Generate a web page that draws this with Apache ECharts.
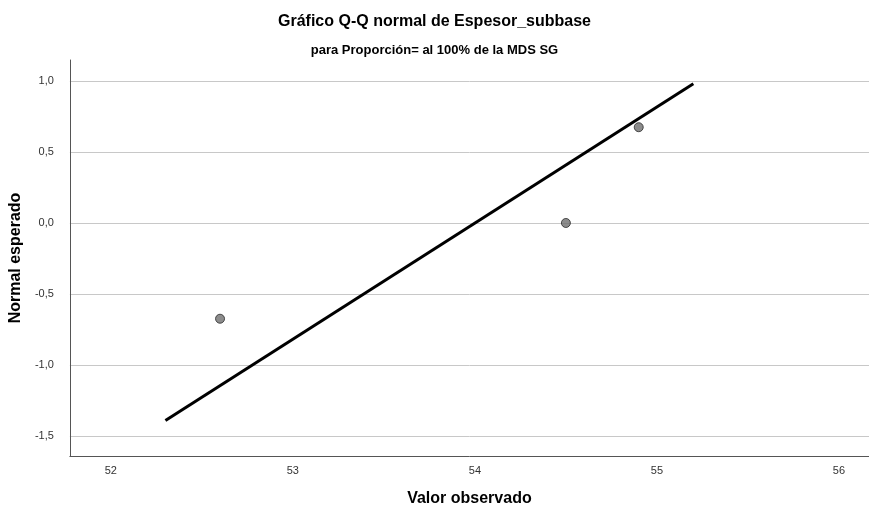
<!DOCTYPE html>
<html>
<head>
<meta charset="utf-8">
<script src="https://cdn.jsdelivr.net/npm/echarts@6/dist/echarts.min.js"></script>
<style>
    html, body { margin: 0; padding: 0; background: #fff; }
    #main { width: 869px; height: 512px; }
</style>
</head>
<body>
<div id="main"></div>
<script>
    // valores observados y normal esperado (Q-Q)
    var observado = [52.6, 54.5, 54.9];
    var esperado = [-0.674, 0.0, 0.674];
    // recta de referencia (extremos)
    var rectaX = [52.3, 55.2];
    var rectaY = [-1.39, 0.98];
    var xTicks = [52, 53, 54, 55, 56];
    var yTicks = [-1.5, -1.0, -0.5, 0.0, 0.5, 1.0];

    var puntos = observado.map(function (v, i) { return [v, esperado[i]]; });
    var recta = rectaX.map(function (v, i) { return [v, rectaY[i]]; });

    var myChart = echarts.init(document.getElementById('main'));
    myChart.setOption({
        animation: false,
        textStyle: { fontFamily: 'Liberation Sans, Arial, sans-serif' },
        title: {
            text: 'Gráfico Q-Q normal de Espesor_subbase',
            subtext: 'para Proporción= al 100% de la MDS SG',
            left: 'center',
            top: 9,
            itemGap: 14,
            textStyle: { fontSize: 16, fontWeight: 'bold', color: '#000' },
            subtextStyle: { fontSize: 13, fontWeight: 'bold', color: '#000' }
        },
        grid: {
            left: 67,
            right: 0,
            top: 60,
            bottom: 54
        },
        xAxis: {
            type: 'value',
            min: 51.775,
            max: 56.165,
            name: 'Valor observado',
            nameLocation: 'middle',
            nameGap: 35,
            nameTextStyle: { fontSize: 16, fontWeight: 'bold', color: '#000' },
            axisLine: { show: true, onZero: false, lineStyle: { color: '#555', width: 1 } },
            axisTick: { show: false, customValues: xTicks },
            axisLabel: {
                customValues: xTicks,
                fontSize: 11,
                color: '#333',
                margin: 9,
                formatter: function (v) { return String(v); }
            },
            splitLine: { show: false }
        },
        yAxis: {
            type: 'value',
            min: -1.64,
            max: 1.147,
            name: 'Normal esperado',
            nameLocation: 'middle',
            nameGap: 37,
            nameTextStyle: { fontSize: 16, fontWeight: 'bold', color: '#000' },
            axisLine: { show: true, onZero: false, lineStyle: { color: '#555', width: 1 } },
            axisTick: { show: false, customValues: yTicks },
            axisLabel: {
                customValues: yTicks,
                fontSize: 11,
                color: '#333',
                margin: 16,
                formatter: function (v) { return v.toFixed(1).replace('.', ','); }
            },
            splitLine: { show: true, lineStyle: { color: '#c8c8c8', width: 1 } }
        },
        series: [
            {
                name: 'recta',
                type: 'line',
                data: recta,
                symbol: 'none',
                lineStyle: { color: '#000', width: 3 },
                silent: true
            },
            {
                name: 'puntos',
                type: 'scatter',
                data: puntos,
                symbolSize: 9,
                itemStyle: { color: '#6f6f6f', borderColor: '#2a2a2a', borderWidth: 1 }
            }
        ]
    });
</script>
</body>
</html>
